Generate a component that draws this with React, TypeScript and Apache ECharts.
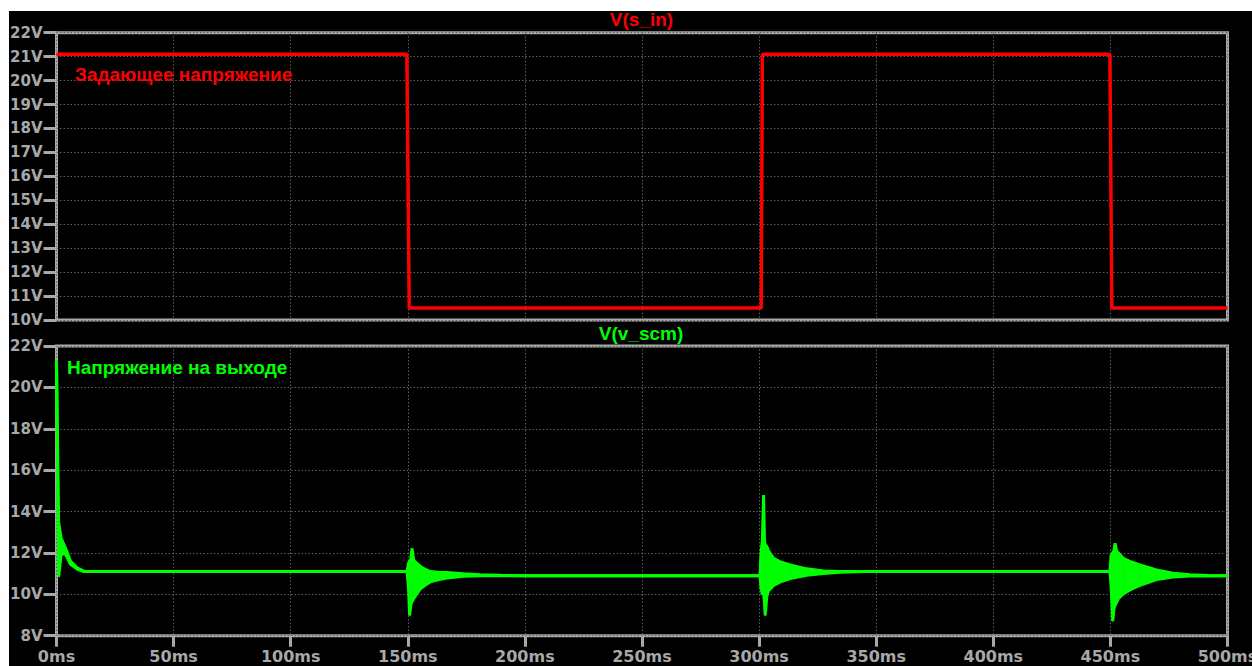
import React, { useEffect, useRef } from "react";
import * as echarts from "echarts";

// ---- tick values / labels ----
const xTickValues = [0, 50, 100, 150, 200, 250, 300, 350, 400, 450, 500];
const xTickLabels = ["0ms", "50ms", "100ms", "150ms", "200ms", "250ms", "300ms", "350ms", "400ms", "450ms", "500ms"];
const topYTickValues = [10, 11, 12, 13, 14, 15, 16, 17, 18, 19, 20, 21, 22];
const topYTickLabels = ["10V", "11V", "12V", "13V", "14V", "15V", "16V", "17V", "18V", "19V", "20V", "21V", "22V"];
const bottomYTickValues = [8, 10, 12, 14, 16, 18, 20, 22];
const bottomYTickLabels = ["8V", "10V", "12V", "14V", "16V", "18V", "20V", "22V"];

// ---- titles / labels ----
const topTitle = "V(s_in)";
const bottomTitle = "V(v_scm)";
const topLabel = "Задающее напряжение";
const bottomLabel = "Напряжение на выходе";

// ---- V(s_in): setpoint voltage ----
const setpointTimeMs = [0, 149.6, 150.6, 300.9, 301.4, 449.8, 450.6, 500];
const setpointVolts = [21.1, 21.1, 10.5, 10.5, 21.1, 21.1, 10.5, 10.5];

// ---- V(v_scm): output voltage (upper / lower envelope of the trace) ----
const outputTimeMs = [
  0, 0.9, 2.0, 3.8, 6.0, 8.8, 11.7, 13, 50, 100, 149.7,
  150.3, 150.8, 151.3, 151.8, 152.5, 154, 155.4, 157.5, 159.6, 163, 166.7, 173.8, 181, 190, 200,
  250, 300.4,
  300.8, 301.4, 301.9, 302.3, 302.6, 303.3, 304, 306.2, 309.5, 313.3, 320.4, 327.5, 334.6, 345,
  400, 449.8,
  450.3, 451.0, 451.5, 452.0, 452.6, 453.4, 455.5, 459, 462.6, 469.7, 476.8, 483.9, 492, 500,
];
const outputUpperV = [
  21.3, 13.5, 12.7, 12.25, 11.6, 11.28, 11.12, 11.1, 11.1, 11.1, 11.1,
  11.5, 11.6, 11.7, 12.22, 11.66, 11.48, 11.34, 11.2, 11.1, 11.07, 11.05, 10.99, 10.94, 10.92, 10.9,
  10.9, 10.9,
  12.0, 12.6, 14.8, 12.6, 12.4, 12.31, 12.1, 11.74, 11.55, 11.42, 11.23, 11.13, 11.1, 11.1,
  11.1, 11.1,
  11.9, 12.0, 12.1, 12.47, 12.1, 11.99, 11.74, 11.56, 11.42, 11.18, 11.02, 10.94, 10.91, 10.9,
];
const outputLowerV = [
  21.3, 10.85, 11.95, 11.95, 11.45, 11.22, 11.1, 11.1, 11.1, 11.1, 11.1,
  10.3, 8.98, 9.5, 9.65, 9.79, 10.05, 10.27, 10.45, 10.6, 10.7, 10.79, 10.87, 10.9, 10.9, 10.9,
  10.9, 10.9,
  10.3, 10.0, 10.1, 9.6, 8.98, 9.9, 10.17, 10.43, 10.62, 10.76, 10.92, 11.0, 11.07, 11.1,
  11.1, 11.1,
  10.4, 8.7, 9.3, 9.47, 9.6, 9.79, 10.03, 10.25, 10.43, 10.71, 10.84, 10.88, 10.89, 10.9,
];

const FRAME = "#a8a8a8";
const TICK_TEXT = "#a8a8a8";
const GRID_DOT = "#5e5e5e";
const RED = "#ff0000";
const GREEN = "#00ff00";

function lookup(values: number[], labels: string[], v: number) {
  const i = values.indexOf(v);
  return i >= 0 ? labels[i] : "";
}

export default function App() {
  const ref = useRef<HTMLDivElement>(null);

  useEffect(() => {
    if (!ref.current) return;
    const chart = echarts.init(ref.current, undefined, { renderer: "svg" });

    const tickLabelStyle = {
      color: TICK_TEXT,
      fontFamily: "DejaVu Sans",
      fontWeight: "bold" as const,
    };
    const dotted = { show: true, lineStyle: { color: GRID_DOT, width: 1, type: [1.5, 2] } };

    const setpointData = setpointTimeMs.map((t, i) => [t, setpointVolts[i]]);
    const upperData = outputTimeMs.map((t, i) => [t, outputUpperV[i]]);
    const lowerData = outputTimeMs.map((t, i) => [t, outputLowerV[i]]);
    const bandData = outputTimeMs.map((t, i) => [t, outputUpperV[i], outputLowerV[i]]);
    const n = outputTimeMs.length;

    const gridLeft = 56.5;
    const gridWidth = 1171;

    chart.setOption({
      animation: false,
      backgroundColor: "#000000",
      grid: [
        {
          left: gridLeft, top: 32.7, width: gridWidth, height: 287.3,
          containLabel: false, outerBoundsMode: "none",
          show: true, borderColor: FRAME, borderWidth: 3, backgroundColor: "transparent",
        },
        {
          left: gridLeft, top: 346, width: gridWidth, height: 289.7,
          containLabel: false, outerBoundsMode: "none",
          show: true, borderColor: FRAME, borderWidth: 3, backgroundColor: "transparent",
        },
      ],
      xAxis: [
        {
          type: "value", gridIndex: 0, min: 0, max: 500, interval: 50,
          axisLine: { show: false }, axisTick: { show: false }, axisLabel: { show: false },
          splitLine: dotted,
        },
        {
          type: "value", gridIndex: 1, min: 0, max: 500, interval: 50,
          axisLine: { show: false },
          axisTick: { show: true, length: 11, lineStyle: { color: FRAME, width: 3 } },
          axisLabel: {
            ...tickLabelStyle, fontSize: 16, margin: 13, hideOverlap: false,
            formatter: (v: number) => lookup(xTickValues, xTickLabels, v),
          },
          splitLine: dotted,
        },
      ],
      yAxis: [
        {
          type: "value", gridIndex: 0, min: 10, max: 22, interval: 1,
          axisLine: { show: false },
          axisTick: { show: true, length: 13, lineStyle: { color: FRAME, width: 3 } },
          axisLabel: {
            ...tickLabelStyle, fontSize: 15, margin: 14,
            formatter: (v: number) => lookup(topYTickValues, topYTickLabels, v),
          },
          splitLine: dotted,
        },
        {
          type: "value", gridIndex: 1, min: 8, max: 22, interval: 2,
          axisLine: { show: false },
          axisTick: { show: true, length: 13, lineStyle: { color: FRAME, width: 3 } },
          axisLabel: {
            ...tickLabelStyle, fontSize: 15, margin: 14,
            formatter: (v: number) => lookup(bottomYTickValues, bottomYTickLabels, v),
          },
          splitLine: dotted,
        },
      ],
      series: [
        {
          name: topTitle, type: "line", xAxisIndex: 0, yAxisIndex: 0,
          data: setpointData, showSymbol: false, symbol: "none",
          lineStyle: { color: RED, width: 3.5 }, z: 5,
        },
        {
          name: bottomTitle + " band", type: "custom", xAxisIndex: 1, yAxisIndex: 1,
          data: bandData,
          encode: { x: 0, y: [1, 2] },
          renderItem: (params: any, api: any) => {
            const i = params.dataIndex;
            if (i >= n - 1) return null;
            const a = api.coord([outputTimeMs[i], outputUpperV[i]]);
            const b = api.coord([outputTimeMs[i + 1], outputUpperV[i + 1]]);
            const c = api.coord([outputTimeMs[i + 1], outputLowerV[i + 1]]);
            const d = api.coord([outputTimeMs[i], outputLowerV[i]]);
            return {
              type: "polygon",
              shape: { points: [a, b, c, d] },
              style: { fill: GREEN, stroke: GREEN, lineWidth: 0.8 },
            };
          },
          z: 5,
        },
        {
          name: bottomTitle + " upper", type: "line", xAxisIndex: 1, yAxisIndex: 1,
          data: upperData, showSymbol: false, symbol: "none",
          lineStyle: { color: GREEN, width: 3 }, z: 6,
        },
        {
          name: bottomTitle + " lower", type: "line", xAxisIndex: 1, yAxisIndex: 1,
          data: lowerData, showSymbol: false, symbol: "none",
          lineStyle: { color: GREEN, width: 3 }, z: 6,
        },
      ],
      graphic: [
        { type: "rect", z: 0, silent: true, shape: { x: 0, y: 0, width: 1252, height: 11 }, style: { fill: "#ffffff" } },
        { type: "rect", z: 0, silent: true, shape: { x: 0, y: 0, width: 9, height: 666 }, style: { fill: "#ffffff" } },
        {
          type: "text", x: 641.5, y: 19.5, z: 10,
          style: {
            text: topTitle, fill: RED, fontFamily: "Liberation Sans", fontWeight: "bold",
            fontSize: 19, textAlign: "center", textVerticalAlign: "middle",
          },
        },
        {
          type: "text", x: 641, y: 333, z: 10,
          style: {
            text: bottomTitle, fill: GREEN, fontFamily: "Liberation Sans", fontWeight: "bold",
            fontSize: 19, textAlign: "center", textVerticalAlign: "middle",
          },
        },
        {
          type: "text", x: 75, y: 74.5, z: 10,
          style: {
            text: topLabel, fill: RED, fontFamily: "Liberation Sans", fontWeight: "bold",
            fontSize: 19, textAlign: "left", textVerticalAlign: "middle",
          },
        },
        {
          type: "text", x: 67, y: 367, z: 10,
          style: {
            text: bottomLabel, fill: GREEN, fontFamily: "Liberation Sans", fontWeight: "bold",
            fontSize: 19, textAlign: "left", textVerticalAlign: "middle",
          },
        },
      ],
    });

    return () => {
      chart.dispose();
    };
  }, []);

  return (
    <div
      ref={ref}
      style={{ position: "fixed", left: 0, top: 0, width: 1252, height: 666, background: "#000000" }}
    />
  );
}
